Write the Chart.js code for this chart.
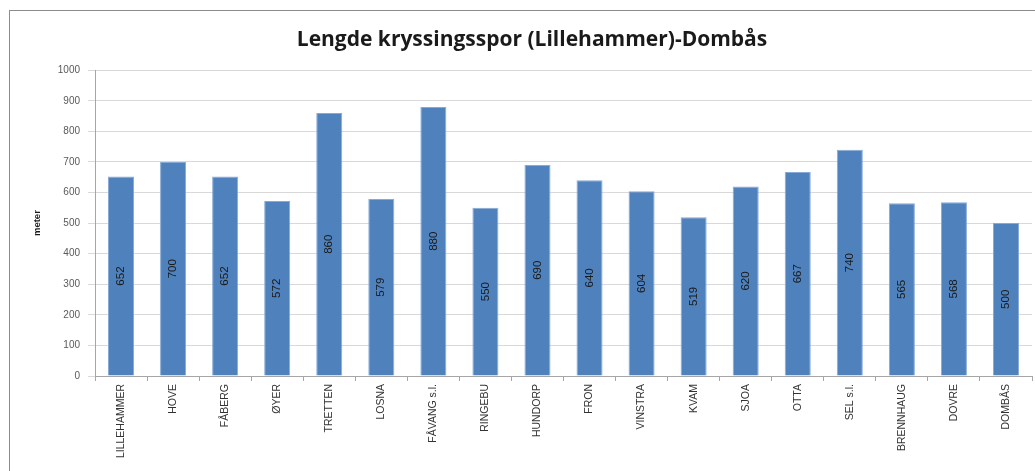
<!DOCTYPE html>
<html>
<head>
<meta charset="utf-8">
<script src="https://cdn.jsdelivr.net/npm/chart.js@4"></script>
<style>
  html, body { margin: 0; padding: 0; background: #fff; overflow: hidden; }
  #frame { position: absolute; left: 9px; top: 10px; width: 1100px; height: 520px; border: 1px solid #8c8c8c; }
  #wrap { position: absolute; left: 0; top: 0; width: 1035px; height: 471px; }
</style>
</head>
<body>
<div id="frame"></div>
<div id="wrap"><canvas id="chartBar"></canvas></div>
<script>
const stations = ['LILLEHAMMER', 'HOVE', 'FÅBERG', 'ØYER', 'TRETTEN', 'LOSNA', 'FÅVANG s.l.', 'RINGEBU',
  'HUNDORP', 'FRON', 'VINSTRA', 'KVAM', 'SJOA', 'OTTA', 'SEL s.l.', 'BRENNHAUG', 'DOVRE', 'DOMBÅS'];
const lengths = [652, 700, 652, 572, 860, 579, 880, 550, 690, 640, 604, 519, 620, 667, 740, 565, 568, 500];
const yTicks = [0, 100, 200, 300, 400, 500, 600, 700, 800, 900, 1000];

// draws the value rotated in the middle of each bar
const barLabels = {
  id: 'barLabels',
  afterDatasetsDraw(chart) {
    const ctx = chart.ctx;
    const meta = chart.getDatasetMeta(0);
    ctx.save();
    ctx.font = '11.5px "Liberation Sans"';
    ctx.fillStyle = '#1a1a1a';
    ctx.textAlign = 'center';
    ctx.textBaseline = 'middle';
    meta.data.forEach((bar, i) => {
      ctx.save();
      ctx.translate(bar.x, (bar.y + bar.base) / 2);
      ctx.rotate(-Math.PI / 2);
      ctx.fillText(String(lengths[i]), 0, 0);
      ctx.restore();
    });
    ctx.restore();
  }
};

new Chart(document.getElementById('chartBar'), {
  type: 'bar',
  data: {
    labels: stations,
    datasets: [{
      label: 'meter',
      data: lengths,
      backgroundColor: '#4F81BD',
      borderColor: '#86a9d6',
      borderWidth: 1,
      barPercentage: 1,
      categoryPercentage: 0.5
    }]
  },
  options: {
    responsive: true,
    maintainAspectRatio: false,
    animation: false,
    layout: { padding: { left: 32, right: 3, top: 0, bottom: 0 } },
    plugins: {
      legend: { display: false },
      tooltip: { enabled: false },
      title: {
        display: true,
        text: 'Lengde kryssingsspor (Lillehammer)-Dombås',
        color: '#1a1a1a',
        font: { family: 'Open Sans', size: 21, weight: 'bold' },
        padding: { top: 27, bottom: 18 }
      }
    },
    scales: {
      x: {
        afterFit(scale) { scale.height = 95; },
        grid: { display: true, drawOnChartArea: false, offset: true, tickLength: 5, color: '#a6a6a6' },
        border: { color: '#a6a6a6' },
        ticks: {
          autoSkip: false,
          minRotation: 90,
          maxRotation: 90,
          padding: 3,
          color: '#333',
          font: { family: 'Liberation Sans', size: 10.5 }
        }
      },
      y: {
        min: 0,
        max: 1000,
        afterFit(scale) { scale.width = 63; },
        afterBuildTicks(scale) { scale.ticks = yTicks.map(v => ({ value: v })); },
        grid: { color: '#d9d9d9', tickLength: 7 },
        border: { color: '#a6a6a6' },
        ticks: {
          padding: 8,
          color: '#595959',
          font: { family: 'Liberation Sans', size: 10 },
          callback: v => String(v)
        },
        title: {
          display: true,
          text: 'meter',
          color: '#1a1a1a',
          padding: 0,
          font: { family: 'Liberation Sans', size: 9.5, weight: 'bold' }
        }
      }
    }
  },
  plugins: [barLabels]
});
</script>
</body>
</html>
